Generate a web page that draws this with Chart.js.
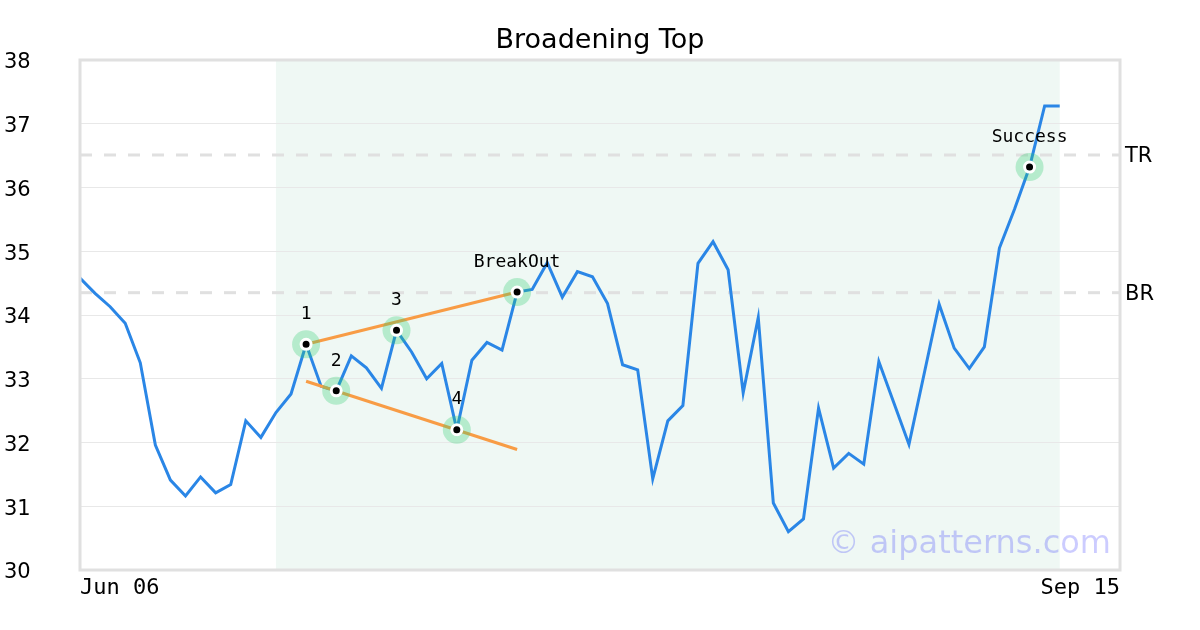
<!DOCTYPE html>
<html>
<head>
<meta charset="utf-8">
<title>Broadening Top</title>
<script src="https://cdn.jsdelivr.net/npm/chart.js@4.4.0/dist/chart.umd.min.js"></script>
<style>
  html, body { margin: 0; padding: 0; background: #fff; }
  canvas { display: block; }
</style>
</head>
<body>
<canvas id="chart" width="1200" height="630"></canvas>
<script>
// x axis: trading-day index, labelled only at its two ends
const axisDates = ['Jun 06', 'Sep 15'];
const xMax = 69;

// closing prices, one per trading day
const prices = [
    34.58, 34.34, 34.13, 33.87, 33.25, 31.96, 31.41, 31.16, 31.46, 31.21,
    31.34, 32.34, 32.08, 32.47, 32.76, 33.54, 32.88, 32.81, 33.36, 33.17,
    32.85, 33.76, 33.42, 33.00, 33.24, 32.20, 33.29, 33.57, 33.45, 34.36,
    34.40, 34.82, 34.28, 34.68, 34.60, 34.18, 33.22, 33.14, 31.43, 32.34,
    32.58, 34.81, 35.15, 34.71, 32.78, 33.96, 31.05, 30.60, 30.80, 32.54,
    31.60, 31.83, 31.66, 33.27, 32.62, 31.97, 33.07, 34.17, 33.48, 33.16,
    33.50, 35.05, 35.66, 36.32, 37.28, 37.28
];

// pattern points
const markerIdx = [15, 17, 21, 25, 29, 63];
const markerLabels = ['1', '2', '3', '4', 'BreakOut', 'Success'];

// trend lines (start/end index, values)
const trendX = [15, 29];
const upperTrend = [33.54, 34.36];
const lowerTrend = [32.96, 31.89];

// pattern window and reference levels
const patternRange = [13, 65];
const levels = [36.51, 34.35];
const levelNames = ['TR', 'BR'];

const yMin = 30, yMax = 38;

const MONO = '"DejaVu Sans Mono", monospace';
const SANS = '"DejaVu Sans", sans-serif';

const pricePoints = prices.map((v, i) => ({ x: i, y: v }));
const markerPoints = markerIdx.map(i => ({ x: i, y: prices[i] }));

const decorations = {
    id: 'decorations',
    beforeDraw(chart) {
        const { ctx, chartArea: a, scales: { x } } = chart;
        ctx.save();
        ctx.fillStyle = '#ffffff';
        ctx.fillRect(0, 0, chart.width, chart.height);
        const x0 = x.getPixelForValue(patternRange[0]);
        const x1 = x.getPixelForValue(patternRange[1]);
        ctx.fillStyle = '#eff8f4';
        ctx.fillRect(x0, a.top, x1 - x0, a.bottom - a.top);
        ctx.restore();
    },
    beforeDatasetsDraw(chart) {
        const { ctx, chartArea: a, scales: { y } } = chart;
        ctx.save();
        ctx.strokeStyle = '#e0e0e0';
        ctx.lineWidth = 3;
        ctx.setLineDash([12, 12]);
        levels.forEach((lv) => {
            const py = y.getPixelForValue(lv);
            ctx.beginPath();
            ctx.moveTo(a.left, py);
            ctx.lineTo(a.right, py);
            ctx.stroke();
        });
        ctx.setLineDash([]);
        ctx.fillStyle = '#000';
        ctx.font = '21px ' + SANS;
        ctx.textAlign = 'left';
        ctx.textBaseline = 'middle';
        levels.forEach((lv, i) => {
            ctx.fillText(levelNames[i], a.right + 5, y.getPixelForValue(lv) + 2);
        });
        ctx.restore();
    },
    afterDraw(chart) {
        const { ctx, chartArea: a, scales: { x, y } } = chart;
        ctx.save();
        // plot frame
        ctx.strokeStyle = '#e0e0e0';
        ctx.lineWidth = 3;
        ctx.strokeRect(a.left, a.top, a.right - a.left, a.bottom - a.top);

        // title
        ctx.fillStyle = '#000';
        ctx.font = '27px ' + SANS;
        ctx.textAlign = 'center';
        ctx.textBaseline = 'middle';
        ctx.fillText('Broadening Top', 600, 41);

        // point labels
        ctx.font = '18px ' + MONO;
        markerIdx.forEach((idx, i) => {
            ctx.fillText(markerLabels[i], x.getPixelForValue(idx), y.getPixelForValue(prices[idx]) - 30);
        });

        // watermark
        ctx.fillStyle = 'rgba(0, 0, 255, 0.2)';
        ctx.font = '32px ' + SANS;
        ctx.textAlign = 'right';
        ctx.textBaseline = 'alphabetic';
        ctx.fillText('\u00a9 aipatterns.com', a.right - 9, 553);
        ctx.restore();
    }
};

new Chart(document.getElementById('chart'), {
    type: 'line',
    data: {
        datasets: [
            {
                label: 'markers',
                data: markerPoints,
                showLine: false,
                pointRadius: 5,
                pointBackgroundColor: '#000',
                pointBorderColor: '#fff',
                pointBorderWidth: 3,
                order: 0
            },
            {
                label: 'halo',
                data: markerPoints,
                showLine: false,
                pointRadius: 14,
                pointBackgroundColor: 'rgba(46, 204, 113, 0.3)',
                pointBorderWidth: 0,
                order: 1
            },
            {
                label: 'upper',
                data: trendX.map((v, i) => ({ x: v, y: upperTrend[i] })),
                borderColor: '#f89c45',
                borderWidth: 3,
                pointRadius: 0,
                order: 2
            },
            {
                label: 'lower',
                data: trendX.map((v, i) => ({ x: v, y: lowerTrend[i] })),
                borderColor: '#f89c45',
                borderWidth: 3,
                pointRadius: 0,
                order: 2
            },
            {
                label: 'price',
                data: pricePoints,
                borderColor: '#2a86e6',
                borderWidth: 3,
                pointRadius: 0,
                tension: 0,
                order: 3
            }
        ]
    },
    options: {
        responsive: false,
        animation: false,
        layout: { padding: { top: 60, right: 80, left: 4, bottom: 0 } },
        plugins: {
            legend: { display: false },
            tooltip: { enabled: false },
            title: { display: false }
        },
        scales: {
            x: {
                type: 'linear',
                min: 0,
                max: xMax,
                grid: { display: false, drawTicks: false },
                border: { display: false },
                afterBuildTicks: (scale) => {
                    scale.ticks = [{ value: 0 }, { value: xMax }];
                },
                afterFit: (scale) => { scale.height = 60; },
                ticks: {
                    align: 'inner',
                    maxRotation: 0,
                    padding: 5,
                    color: '#000',
                    font: { family: MONO, size: 22 },
                    callback: (value) => (value === 0 ? axisDates[0] : axisDates[1])
                }
            },
            y: {
                min: yMin,
                max: yMax,
                grid: { color: '#e8e8e8', lineWidth: 1, drawTicks: false },
                border: { display: false },
                afterFit: (scale) => { scale.width = 76; },
                ticks: {
                    stepSize: 1,
                    crossAlign: 'far',
                    labelOffset: 3,
                    color: '#000',
                    font: { family: SANS, size: 21 }
                }
            }
        }
    },
    plugins: [decorations]
});
</script>
</body>
</html>
